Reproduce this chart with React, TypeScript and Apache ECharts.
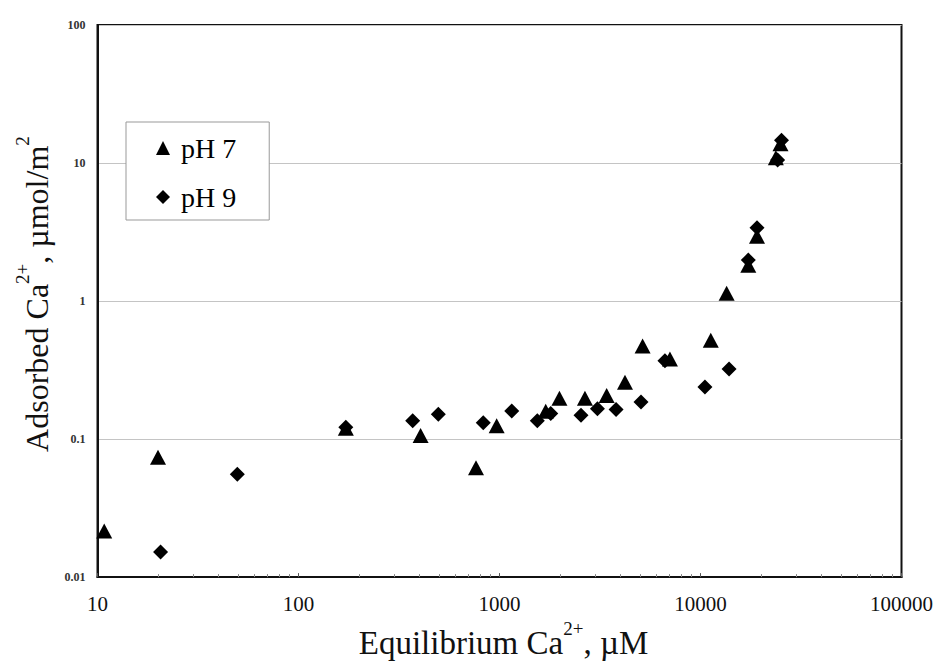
import React, { useEffect, useRef } from "react";
import * as echarts from "echarts";

const seriesNames = ["pH 7", "pH 9"];

const ph7X = [10.8, 20.0, 172, 405, 764, 968, 1698, 1987, 2661, 3413, 4210, 5152, 7047, 11250, 13490, 17290, 19100, 23700, 25000];
const ph7Y = [0.0216, 0.0738, 0.12, 0.106, 0.0619, 0.125, 0.159, 0.198, 0.198, 0.207, 0.258, 0.472, 0.38, 0.519, 1.137, 1.82, 2.95, 10.9, 13.8];

const ph9X = [20.6, 49.6, 172, 370, 496, 830, 1151, 1542, 1799, 2544, 3070, 3802, 5057, 6653, 10520, 13870, 17290, 19100, 24200, 25300];
const ph9Y = [0.0152, 0.0555, 0.122, 0.136, 0.151, 0.1315, 0.16, 0.136, 0.153, 0.149, 0.166, 0.164, 0.186, 0.369, 0.238, 0.322, 1.98, 3.4, 10.5, 14.6];

const xTickValues = [10, 100, 1000, 10000, 100000];
const xTickLabels = ["10", "100", "1000", "10000", "100000"];
const yTickValues = [0.01, 0.1, 1, 10, 100];
const yTickLabels = ["0.01", "0.1", "1", "10", "100"];

const FONT = "Liberation Serif";

function labelFor(values: number[], labels: string[], v: number) {
  for (let i = 0; i < values.length; i++) {
    if (Math.abs(Math.log10(v) - Math.log10(values[i])) < 1e-6) return labels[i];
  }
  return "";
}

export default function App() {
  const ref = useRef<HTMLDivElement>(null);
  useEffect(() => {
    if (!ref.current) return;
    const chart = echarts.init(ref.current, null, { renderer: "svg" });
    const pair = (xs: number[], ys: number[]) => xs.map((x, i) => [x, ys[i]]);
    chart.setOption({
      animation: false,
      backgroundColor: "#fff",
      textStyle: { fontFamily: FONT },
      grid: {
        left: 97.5,
        top: 25,
        right: 37.5,
        bottom: 80,
        show: true,
        borderColor: "#111",
        borderWidth: 2,
        backgroundColor: "transparent",
      },
      legend: {
        orient: "vertical",
        left: 126,
        top: 122,
        data: seriesNames,
        itemWidth: 14,
        itemHeight: 14,
        itemGap: 21,
        padding: [12, 33, 9, 30],
        backgroundColor: "#fff",
        borderColor: "#999",
        borderWidth: 1,
        borderRadius: 0,
        textStyle: {
          fontFamily: FONT,
          fontSize: 28,
          lineHeight: 28,
          color: "#000",
          padding: [0, 0, 0, 6],
        },
      },
      xAxis: {
        type: "log",
        logBase: 10,
        min: 10,
        max: 100000,
        name: "{a|Equilibrium Ca}{s|2+}{a|, µM}",
        nameLocation: "middle",
        nameGap: 34,
        nameTextStyle: {
          fontFamily: FONT,
          color: "#111",
          padding: [0, 0, 0, 8],
          rich: {
            a: { fontFamily: FONT, fontSize: 33, lineHeight: 40, verticalAlign: "bottom", color: "#111" },
            s: { fontFamily: FONT, fontSize: 19, lineHeight: 20, verticalAlign: "top", color: "#111" },
          },
        },
        axisLine: { show: true, lineStyle: { color: "#111", width: 2 } },
        axisTick: { show: true, inside: true, length: 4, lineStyle: { color: "#555" } },
        minorTick: { show: true, splitNumber: 9, length: 3, lineStyle: { color: "#888" } },
        splitLine: { show: false },
        axisLabel: {
          margin: 16,
          fontFamily: FONT,
          fontSize: 21,
          color: "#111",
          formatter: (v: number) => labelFor(xTickValues, xTickLabels, v),
        },
      },
      yAxis: {
        type: "log",
        logBase: 10,
        min: 0.01,
        max: 100,
        name: "{a|Adsorbed Ca}{s|2+}{a|, µmol/m}{s|2}",
        nameLocation: "middle",
        nameGap: 45,
        nameRotate: 90,
        nameTextStyle: {
          fontFamily: FONT,
          color: "#111",
          padding: [0, 0, 0, 14],
          rich: {
            a: { fontFamily: FONT, fontSize: 32, lineHeight: 40, verticalAlign: "bottom", color: "#111" },
            s: { fontFamily: FONT, fontSize: 19, lineHeight: 20, verticalAlign: "top", color: "#111" },
          },
        },
        axisLine: { show: true, lineStyle: { color: "#111", width: 2 } },
        axisTick: { show: false },
        splitLine: { show: true, lineStyle: { color: "#c4c4c4", width: 1 } },
        axisLabel: {
          margin: 12,
          fontFamily: FONT,
          fontSize: 12,
          fontWeight: "bold",
          color: "#333",
          formatter: (v: number) => labelFor(yTickValues, yTickLabels, v),
        },
      },
      series: [
        {
          name: seriesNames[0],
          type: "scatter",
          symbol: "triangle",
          symbolSize: [16, 15],
          itemStyle: { color: "#000", opacity: 1 },
          data: pair(ph7X, ph7Y),
        },
        {
          name: seriesNames[1],
          type: "scatter",
          symbol: "diamond",
          symbolSize: [15, 15],
          itemStyle: { color: "#000", opacity: 1 },
          data: pair(ph9X, ph9Y),
        },
      ],
    });
    return () => chart.dispose();
  }, []);
  return (
    <div
      ref={ref}
      style={{ position: "absolute", left: 0, top: 0, width: 939, height: 664 }}
    />
  );
}
